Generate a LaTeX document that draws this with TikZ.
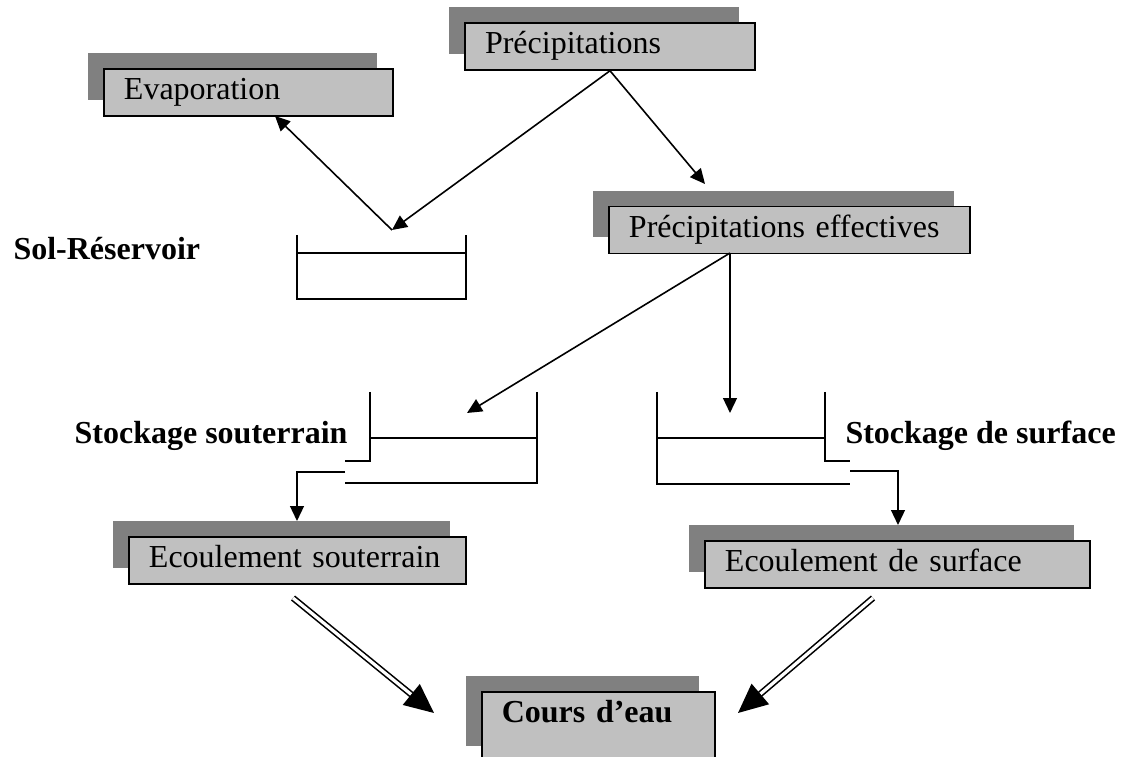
\documentclass[tikz,border=0pt]{standalone}
\usepackage{fontspec}
\setmainfont{Liberation Serif}
\usetikzlibrary{arrows.meta,shadows}
\definecolor{boxgray}{HTML}{C0C0C0}
\definecolor{shadegray}{HTML}{808080}

\begin{document}
\begin{tikzpicture}[x=0.375pt,y=-0.375pt,font=\large]
        \tikzset{
        cycle box/.style={draw,line width=0.6pt,fill=boxgray,text width=#1,align=left,
            inner xsep=7.5pt,inner ysep=0pt,minimum height=17.6pt,text height=8pt,text depth=2.5pt,
            general shadow={fill=shadegray,shadow xshift=-6pt,shadow yshift=6pt}},
        cycle label/.style={font=\large\bfseries,inner sep=0},
        cycle edge/.style={line width=0.6pt,-{Triangle[length=5.6pt,width=5.2pt]}},
        tank/.style={line width=0.6pt},
        river edge/.style={double,double distance=1.2pt,line width=0.6pt,-{Triangle[length=11pt,width=10pt]}}
        }
        \useasboundingbox (0,0) rectangle (1122,757);

        % boxes
        \node[cycle box=93.4pt] (evap) at (248.5,92.5) {Evaporation};
        \node[cycle box=93.75pt] (precip) at (610,46.5) {Précipitations};
        \node[cycle box=120.4pt] (eff) at (789.5,230) {Précipitations effectives};
        \node[cycle box=111.4pt] (esout) at (297.5,560.5) {Ecoulement souterrain};
        \node[cycle box=129.4pt] (esurf) at (897.5,564.5) {Ecoulement de surface};
        \node[cycle box=72.4pt,font=\large\bfseries,text height=11.55pt,text depth=14.7pt,anchor=north west] (cours) at (481,691) {Cours d’eau};

        % labels
        \node[cycle label,anchor=base west] (solres) at (13,260) {Sol-Réservoir};
        \node[cycle label,anchor=base east] (stsout) at (348,444) {Stockage souterrain};
        \node[cycle label,anchor=base west] (stsurf) at (845,444) {Stockage de surface};

        % reservoirs
        \draw[tank] (297,235) -- (297,299) -- (466,299) -- (466,235);
        \draw[tank] (297,253) -- (466,253);
        \draw[tank] (370,392) -- (370,461) -- (345,461);
        \draw[tank] (537,392) -- (537,483) -- (345,483);
        \draw[tank] (370,438) -- (537,438);
        \draw[tank] (657,392) -- (657,484) -- (850,484);
        \draw[tank] (825,392) -- (825,461) -- (850,461);
        \draw[tank] (657,438) -- (825,438);

        \coordinate (solin) at (392,230);
        \coordinate (evapin) at (275,116);
        \coordinate (effin) at (705,184);
        \coordinate (effout) at (730,253);
        \coordinate (soutin) at (467,413);
        \coordinate (surfin) at (730,413);
        \coordinate (soutout) at (345,472);
        \coordinate (esoutin) at (297,521);
        \coordinate (surfout) at (850,471);
        \coordinate (esurfin) at (898,525);
        \coordinate (esoutout) at (293,598);
        \coordinate (esurfout) at (873,598);
        \coordinate (coursl) at (434,713);
        \coordinate (coursr) at (738,713);

        \path[draw]
        (precip.south) edge[cycle edge] (solin)
        (solin) edge[cycle edge] (evapin)
        (precip.south) edge[cycle edge] (effin)
        (effout) edge[cycle edge] (soutin)
        (effout) edge[cycle edge] (surfin)
        (esoutout) edge[river edge] (coursl)
        (esurfout) edge[river edge] (coursr)
        ;
        \draw[cycle edge] (soutout) -| (esoutin);
        \draw[cycle edge] (surfout) -| (esurfin);
    \end{tikzpicture}
\end{document}
